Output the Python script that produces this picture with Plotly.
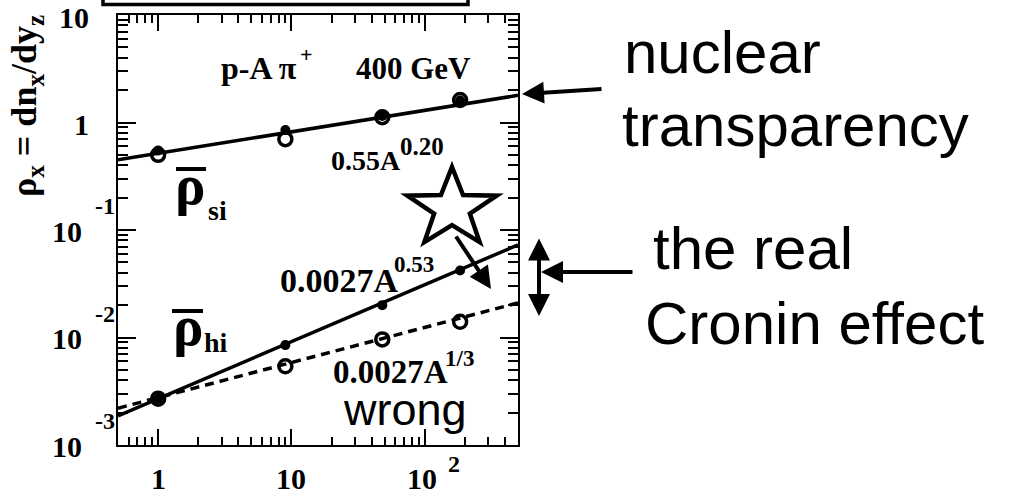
import math
import plotly.graph_objects as go

# ---------------- data ----------------
A_vals = [1, 9, 48, 184]
rho_si_fill = [0.55, 0.85, 1.15, 1.60]
rho_si_open = [0.50, 0.70, 1.12, 1.62]
rho_hi_fill = [0.0027, 0.0085, 0.020, 0.042]
rho_hi_open = [0.0027, 0.0054, 0.0096, 0.014]

fit_A = [0.5, 500]
fit_si = [0.45, 1.79]          # 0.55 A^0.20
fit_hi = [0.00187, 0.0727]     # 0.0027 A^0.53
fit_hi_third = [0.0022, 0.021]  # 0.0027 A^1/3

x_tickvals = [1, 10, 100]
x_tick_base = ["1", "10", "10"]
x_tick_exp = ["", "", "2"]
y_tickvals = [0.001, 0.01, 0.1, 1, 10]
y_tick_base = ["10", "10", "10", "1", "10"]
y_tick_exp = ["-3", "-2", "-1", "", ""]

x_minor = [0.6, 0.7, 0.8, 0.9] + [m * d for d in (1, 10, 100) for m in range(2, 10)]
x_minor = [v for v in x_minor if v <= 500]
y_minor = [m * d for d in (0.001, 0.01, 0.1, 1) for m in range(2, 10)]

# ---------------- geometry ----------------
W, H = 1034, 495
L, R, T, B = 118, 518, 15, 445


def px_x(px):
    return (px - L) / (R - L)


def px_y(py):
    return (B - py) / (B - T)


SERIF = "Liberation Serif"
SANS = "Liberation Sans"

fig = go.Figure()

# fit lines
fig.add_trace(go.Scatter(x=fit_A, y=fit_si, mode="lines",
                         line=dict(color="black", width=3.5), showlegend=False))
fig.add_trace(go.Scatter(x=fit_A, y=fit_hi, mode="lines",
                         line=dict(color="black", width=3.5), showlegend=False))
fig.add_trace(go.Scatter(x=fit_A, y=fit_hi_third, mode="lines",
                         line=dict(color="black", width=3.5, dash="9px,6px"), showlegend=False))

# markers
for ys in (rho_si_open, rho_hi_open):
    fig.add_trace(go.Scatter(x=A_vals, y=ys, mode="markers", showlegend=False,
                             marker=dict(symbol="circle-open", size=13, color="black",
                                         line=dict(width=3.5, color="black"))))
for ys in (rho_si_fill, rho_hi_fill):
    fig.add_trace(go.Scatter(x=A_vals, y=ys, mode="markers", showlegend=False,
                             marker=dict(symbol="circle", size=10, color="black")))

annotations = []


def text_at(s, x_px, base_px, size, serif=True, bold=True, xanchor="left"):
    asc, desc = (0.891, 0.216) if serif else (0.905, 0.212)
    yc = base_px - (asc - desc) / 2 * size
    annotations.append(dict(
        text=f"<b>{s}</b>" if bold else s, xref="paper", yref="paper",
        x=px_x(x_px), y=px_y(yc), xanchor=xanchor, yanchor="middle",
        showarrow=False, borderpad=0,
        font=dict(family=SERIF if serif else SANS, size=size, color="black")))


# in-plot labels
text_at("p-A π", 220, 79, 32)
text_at("+", 299, 62, 22)
text_at("400 GeV", 355, 79, 31)
text_at("0.55A", 330, 170, 28)
text_at("0.20", 399, 155, 25)
text_at("0.0027A", 279, 292, 34)
text_at("0.53", 393, 272, 23)
text_at("0.0027A", 332, 383, 33)
text_at("1/3", 444, 366, 23)
text_at("wrong", 342, 425, 45, serif=False, bold=False)
text_at("ρ", 174, 204, 57)
text_at("si", 207, 220, 28)
text_at("ρ", 172, 345, 57)
text_at("hi", 203, 352, 28)

# right-hand labels
text_at("nuclear", 623, 73, 60, serif=False, bold=False)
text_at("transparency", 621, 146, 60, serif=False, bold=False)
text_at("the real", 652, 269, 60, serif=False, bold=False)
text_at("Cronin effect", 644, 344, 60, serif=False, bold=False)

# y axis title
annotations.append(dict(
    text="<b>ρ<sub>x</sub> = dn<sub>x</sub>/dy<sub>z</sub></b>", xref="paper", yref="paper",
    x=px_x(27), y=px_y(106), xanchor="center", yanchor="middle", textangle=-90,
    showarrow=False, borderpad=0, font=dict(family=SERIF, size=36, color="black")))

# tick labels (log axis positions -> log10 for annotations)
for v, base, ex in zip(y_tickvals, y_tick_base, y_tick_exp):
    if ex:
        annotations.append(dict(text=f"<b>{base}</b>", xref="paper", yref="y", x=px_x(83),
                                y=math.log10(v), xanchor="right", yanchor="middle", yshift=-1,
                                showarrow=False, borderpad=0,
                                font=dict(family=SERIF, size=30, color="black")))
        annotations.append(dict(text=f"<b>{ex}</b>", xref="paper", yref="y", x=px_x(94),
                                y=math.log10(v), xanchor="left", yanchor="middle", yshift=24,
                                showarrow=False, borderpad=0,
                                font=dict(family=SERIF, size=24, color="black")))
    else:
        annotations.append(dict(text=f"<b>{base}</b>", xref="paper", yref="y", x=px_x(90),
                                y=math.log10(v), xanchor="right", yanchor="middle", yshift=-2,
                                showarrow=False, borderpad=0,
                                font=dict(family=SERIF, size=30, color="black")))

for v, base, ex in zip(x_tickvals, x_tick_base, x_tick_exp):
    annotations.append(dict(text=f"<b>{base}</b>", xref="x", yref="paper", x=math.log10(v),
                            y=px_y(478), xanchor="center", yanchor="middle",
                            xshift=-3 if ex else 0, showarrow=False, borderpad=0,
                            font=dict(family=SERIF, size=30, color="black")))
    if ex:
        annotations.append(dict(text=f"<b>{ex}</b>", xref="x", yref="paper", x=math.log10(v),
                                y=px_y(464), xanchor="left", yanchor="middle", xshift=22,
                                showarrow=False, borderpad=0,
                                font=dict(family=SERIF, size=24, color="black")))


# arrows
def arrow(tip, tail, both=False):
    d = dict(x=px_x(tip[0]), y=px_y(tip[1]), xref="paper", yref="paper",
             ax=tail[0] - tip[0], ay=tail[1] - tip[1], text="", showarrow=True,
             arrowhead=2, arrowsize=1.1, arrowwidth=4, arrowcolor="black", standoff=0)
    if both:
        d.update(arrowside="end+start", startarrowhead=2, startarrowsize=1.1, startstandoff=0)
    annotations.append(d)


arrow((522, 94), (603, 89))
arrow((541, 272), (634, 272))
arrow((539, 316), (539, 237), both=True)
arrow((491, 289), (455, 235))

# shapes: overlines, star, top box
shapes = []
for x0, x1, y in ((176, 206, 169), (172, 203, 311)):
    shapes.append(dict(type="line", xref="paper", yref="paper", x0=px_x(x0), x1=px_x(x1),
                       y0=px_y(y), y1=px_y(y), line=dict(color="black", width=4)))

cx, cy, rx, ry = 452, 208.5, 47, 41.5
pts = []
for k in range(10):
    ang = -math.pi / 2 + k * math.pi / 5
    f = 1.0 if k % 2 == 0 else 0.40
    pts.append((cx + rx * f * math.cos(ang), cy + ry * f * math.sin(ang)))
path = "M " + " L ".join(f"{px_x(a):.5f},{px_y(b):.5f}" for a, b in pts) + " Z"
shapes.append(dict(type="path", xref="paper", yref="paper", path=path,
                   line=dict(color="black", width=4.5), fillcolor="rgba(0,0,0,0)"))

shapes.append(dict(type="rect", xref="paper", yref="paper", x0=px_x(103), x1=px_x(468),
                   y0=px_y(4.5), y1=px_y(-40), line=dict(color="black", width=3.5)))

axis_common = dict(type="log", showline=True, linecolor="black", linewidth=2,
                   mirror="allticks", ticks="inside", tickcolor="black", tickwidth=1.5,
                   showticklabels=False, showgrid=False, zeroline=False)

fig.update_layout(
    width=W, height=H, autosize=False,
    margin=dict(l=L, r=W - R, t=T, b=H - B, pad=0),
    plot_bgcolor="white", paper_bgcolor="white",
    xaxis=dict(axis_common, range=[math.log10(0.5), math.log10(500)],
               tickmode="array", tickvals=x_tickvals, ticklen=16,
               minor=dict(ticks="inside", ticklen=8, tickwidth=1.5, tickcolor="black",
                          tickmode="array", tickvals=x_minor, showgrid=False)),
    yaxis=dict(axis_common, range=[-3, 1],
               tickmode="array", tickvals=y_tickvals, ticklen=18,
               minor=dict(ticks="inside", ticklen=10, tickwidth=1.5, tickcolor="black",
                          tickmode="array", tickvals=y_minor, showgrid=False)),
    annotations=annotations, shapes=shapes, showlegend=False,
)

fig.write_html("out.html")
